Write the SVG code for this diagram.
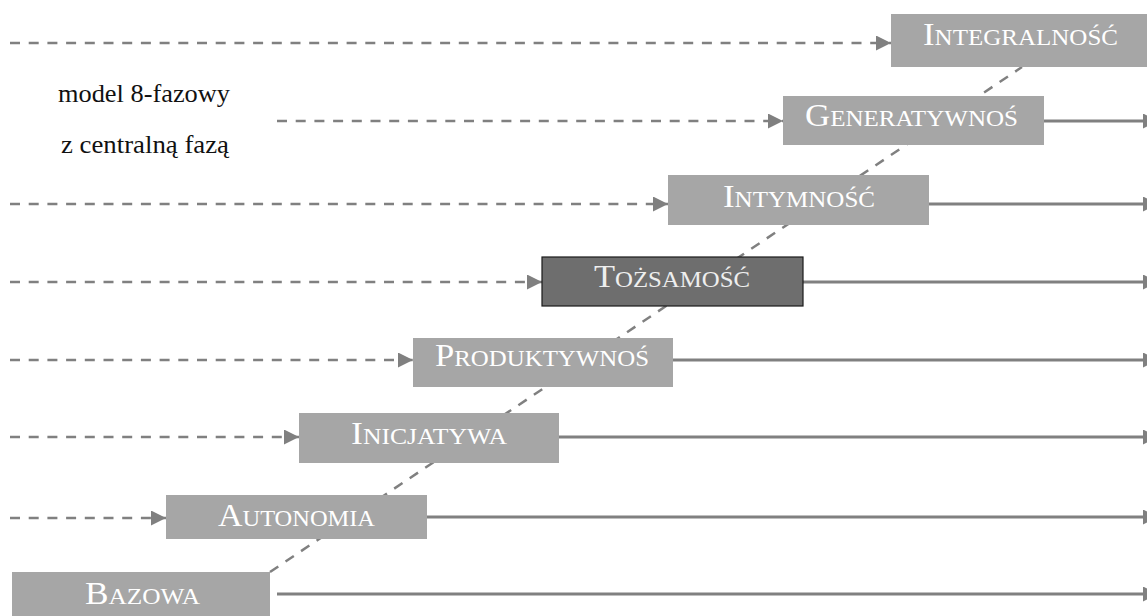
<svg xmlns="http://www.w3.org/2000/svg" width="1147" height="616" viewBox="0 0 1147 616">
  <style>
    .box { fill: #a6a6a6; }
    .box.dark { fill: #6e6e6e; stroke: #1a1a1a; stroke-width: 1.2; }
    .label { font-family: "Liberation Serif", "Times New Roman", serif; font-size: 23px; fill: #ffffff; }
    .label.dim { fill: #eeeeee; }
    .cap { font-size: 32px; }
    .note { font-family: "Liberation Serif", "Times New Roman", serif; font-size: 25px; fill: #111111; }
    .dash { stroke: #808080; stroke-width: 2.5; stroke-dasharray: 10 8.7; fill: none; }
    .solid { stroke: #808080; stroke-width: 2.8; fill: none; }
  </style>
  <defs>
    <marker id="arrow" markerUnits="userSpaceOnUse" markerWidth="16" markerHeight="16" refX="15" refY="7.5" orient="auto">
      <path d="M0,0 L15,7.5 L0,15 Z" fill="#808080"/>
    </marker>
  </defs>

  <rect width="1147" height="616" fill="#ffffff"/>

  <!-- caption -->
  <text class="note" x="58" y="102" textLength="172" lengthAdjust="spacingAndGlyphs">model 8-fazowy</text>
  <text class="note" x="61" y="153" textLength="168" lengthAdjust="spacingAndGlyphs">z centralną fazą</text>

  <g id="connectors">
    <!-- diagonal through the phases -->
    <line class="dash" x1="270" y1="572" x2="1022" y2="67"/>
    <!-- incoming dashed arrows -->
    <line class="dash" x1="10" y1="43" x2="891" y2="43" marker-end="url(#arrow)"/>
    <line class="dash" x1="277" y1="121" x2="783" y2="121" marker-end="url(#arrow)"/>
    <line class="dash" x1="10" y1="204" x2="668" y2="204" marker-end="url(#arrow)"/>
    <line class="dash" x1="10" y1="282" x2="542" y2="282" marker-end="url(#arrow)"/>
    <line class="dash" x1="10" y1="360" x2="413" y2="360" marker-end="url(#arrow)"/>
    <line class="dash" x1="10" y1="437" x2="299" y2="437" marker-end="url(#arrow)"/>
    <line class="dash" x1="10" y1="518" x2="166" y2="518" marker-end="url(#arrow)"/>
    <!-- outgoing solid arrows -->
    <line class="solid" x1="1044" y1="121" x2="1158" y2="121" marker-end="url(#arrow)"/>
    <line class="solid" x1="929" y1="204" x2="1158" y2="204" marker-end="url(#arrow)"/>
    <line class="solid" x1="803" y1="282" x2="1158" y2="282" marker-end="url(#arrow)"/>
    <line class="solid" x1="673" y1="360" x2="1158" y2="360" marker-end="url(#arrow)"/>
    <line class="solid" x1="559" y1="437" x2="1158" y2="437" marker-end="url(#arrow)"/>
    <line class="solid" x1="427" y1="517" x2="1158" y2="517" marker-end="url(#arrow)"/>
    <line class="solid" x1="277" y1="594" x2="1158" y2="594" marker-end="url(#arrow)"/>
  </g>

  <g id="integralnosc">
    <rect class="box" x="891" y="14" width="256" height="53"/>
    <text class="label" x="923" y="45" textLength="195" lengthAdjust="spacingAndGlyphs"><tspan class="cap">I</tspan>NTEGRALNOŚĆ</text>
  </g>
  <g id="generatywnosc">
    <rect class="box" x="783" y="96" width="261" height="49"/>
    <text class="label" x="805" y="126" textLength="213" lengthAdjust="spacingAndGlyphs"><tspan class="cap">G</tspan>ENERATYWNOŚ</text>
  </g>
  <g id="intymnosc">
    <rect class="box" x="668" y="175" width="261" height="50"/>
    <text class="label" x="723" y="207" textLength="152" lengthAdjust="spacingAndGlyphs"><tspan class="cap">I</tspan>NTYMNOŚĆ</text>
  </g>
  <g id="tozsamosc">
    <rect class="box dark" x="542" y="257" width="261" height="49"/>
    <text class="label dim" x="594" y="287" textLength="156" lengthAdjust="spacingAndGlyphs"><tspan class="cap">T</tspan>OŻSAMOŚĆ</text>
  </g>
  <g id="produktywnosc">
    <rect class="box" x="413" y="338" width="260" height="49"/>
    <text class="label" x="435" y="366" textLength="214" lengthAdjust="spacingAndGlyphs"><tspan class="cap">P</tspan>RODUKTYWNOŚ</text>
  </g>
  <g id="inicjatywa">
    <rect class="box" x="299" y="413" width="260" height="50"/>
    <text class="label" x="351" y="444" textLength="156" lengthAdjust="spacingAndGlyphs"><tspan class="cap">I</tspan>NICJATYWA</text>
  </g>
  <g id="autonomia">
    <rect class="box" x="166" y="495" width="261" height="44"/>
    <text class="label" x="218" y="526" textLength="157" lengthAdjust="spacingAndGlyphs"><tspan class="cap">A</tspan>UTONOMIA</text>
  </g>
  <g id="bazowa">
    <rect class="box" x="12" y="572" width="258" height="44"/>
    <text class="label" x="85" y="604" textLength="115" lengthAdjust="spacingAndGlyphs"><tspan class="cap">B</tspan>AZOWA</text>
  </g>
</svg>
